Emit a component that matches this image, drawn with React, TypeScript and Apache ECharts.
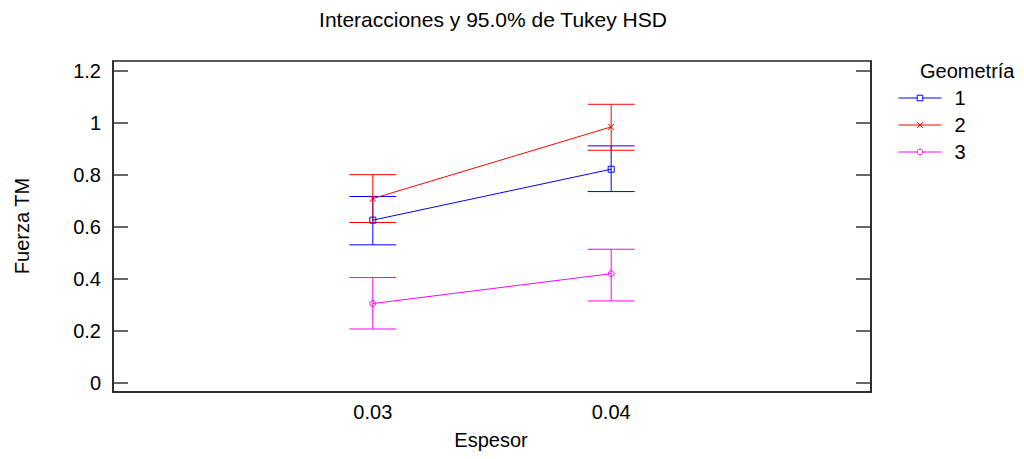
import React, { useEffect, useRef } from "react";
import * as echarts from "echarts";

const espesor = [0.03, 0.04];
const yTicks = [0, 0.2, 0.4, 0.6, 0.8, 1, 1.2];
const groups = ["1", "2", "3"];
const colors = ["#0000ff", "#ff0000", "#ff00ff"];
const symbols = ["rect", "path://M0,0L10,10M10,0L0,10", "circle"];
const meanG1 = [0.626, 0.822];
const lowG1 = [0.531, 0.736];
const highG1 = [0.717, 0.912];
const meanG2 = [0.709, 0.985];
const lowG2 = [0.617, 0.895];
const highG2 = [0.801, 1.072];
const meanG3 = [0.305, 0.42];
const lowG3 = [0.207, 0.315];
const highG3 = [0.405, 0.514];

const means = [meanG1, meanG2, meanG3];
const lows = [lowG1, lowG2, lowG3];
const highs = [highG1, highG2, highG3];

const FONT = "'Liberation Sans', Arial, sans-serif";
const FS = 20;

export default function App() {
  const ref = useRef<HTMLDivElement>(null);
  useEffect(() => {
    if (!ref.current) return;
    const chart = echarts.init(ref.current, null, { renderer: "svg" });
    const series: any[] = [];
    groups.forEach((g, i) => {
      series.push({
        type: "line",
        name: g,
        data: espesor.map((x, j) => [x, means[i][j]]),
        symbol: symbols[i],
        symbolSize: 6,
        showSymbol: true,
        lineStyle: { color: colors[i], width: 1 },
        itemStyle: { color: "none", borderColor: colors[i], borderWidth: 1 },
        z: 3,
      });
      series.push({
        type: "custom",
        name: g,
        data: espesor.map((x, j) => [x, lows[i][j], highs[i][j]]),
        renderItem: (params: any, api: any) => {
          const x = api.value(0);
          const lo = api.coord([x, api.value(1)]);
          const hi = api.coord([x, api.value(2)]);
          const hw = 23.5;
          const style = { stroke: colors[i], lineWidth: 1, fill: "none" };
          return {
            type: "group",
            children: [
              { type: "line", shape: { x1: lo[0], y1: lo[1], x2: hi[0], y2: hi[1] }, style },
              { type: "line", shape: { x1: lo[0] - hw, y1: lo[1], x2: lo[0] + hw, y2: lo[1] }, style },
              { type: "line", shape: { x1: hi[0] - hw, y1: hi[1], x2: hi[0] + hw, y2: hi[1] }, style },
            ],
          };
        },
        z: 2,
      });
    });
    const yAxisBase = {
      type: "value",
      min: -0.0355,
      max: 1.2386,
      splitLine: { show: false },
      axisLine: { show: true, onZero: false, lineStyle: { color: "#222", width: 1.5 } },
      axisTick: {
        show: true,
        inside: true,
        length: 15,
        customValues: yTicks,
        lineStyle: { color: "#333", width: 1.5 },
      },
    };
    chart.setOption({
      animation: false,
      backgroundColor: "#ffffff",
      textStyle: { fontFamily: FONT },
      grid: {
        left: 113,
        right: 153,
        top: 61,
        bottom: 67,
        show: true,
        borderColor: "#222",
        borderWidth: 1.5,
        containLabel: false,
      },
      xAxis: {
        type: "value",
        min: 0.0191,
        max: 0.0509,
        splitLine: { show: false },
        axisLine: { show: true, onZero: false, lineStyle: { color: "#222", width: 1.5 } },
        axisTick: { show: false },
        axisLabel: {
          customValues: espesor,
          formatter: (v: number) => v.toFixed(2),
          fontSize: FS,
          color: "#000",
          margin: 10,
          fontFamily: FONT,
        },
      },
      yAxis: [
        {
          ...yAxisBase,
          position: "left",
          axisLabel: {
            customValues: yTicks,
            fontSize: FS,
            color: "#000",
            margin: 12,
            fontFamily: FONT,
          },
        },
        {
          ...yAxisBase,
          position: "right",
          axisLabel: { show: false },
        },
      ],
      legend: {
        data: groups.map((g, i) => ({
          name: g,
          lineStyle: { width: 1, color: colors[i] },
          itemStyle: { color: "#fff", borderColor: colors[i], borderWidth: 1 },
        })),
        orient: "vertical",
        left: 898,
        top: 88,
        padding: 0,
        itemWidth: 43,
        itemHeight: 7,
        itemGap: 7,
        textStyle: { fontSize: FS, color: "#000", fontFamily: FONT, padding: [0, 0, 0, 8] },
        selectedMode: false,
      },
      graphic: [
        {
          type: "text",
          x: 493,
          y: 19,
          style: {
            text: "Interacciones y 95.0% de Tukey HSD",
            fontSize: 21,
            fill: "#000",
            fontFamily: FONT,
            align: "center",
            verticalAlign: "middle",
          },
        },
        {
          type: "text",
          x: 491,
          y: 440,
          style: {
            text: "Espesor",
            fontSize: FS,
            fill: "#000",
            fontFamily: FONT,
            align: "center",
            verticalAlign: "middle",
          },
        },
        {
          type: "text",
          x: 22,
          y: 226,
          rotation: Math.PI / 2,
          style: {
            text: "Fuerza TM",
            fontSize: FS,
            fill: "#000",
            fontFamily: FONT,
            align: "center",
            verticalAlign: "middle",
          },
        },
        {
          type: "text",
          x: 920,
          y: 71,
          style: {
            text: "Geometría",
            fontSize: FS,
            fill: "#000",
            fontFamily: FONT,
            align: "left",
            verticalAlign: "middle",
          },
        },
      ],
      series,
    });
    return () => chart.dispose();
  }, []);
  return <div ref={ref} style={{ width: 1024, height: 459, margin: -8 }} />;
}
